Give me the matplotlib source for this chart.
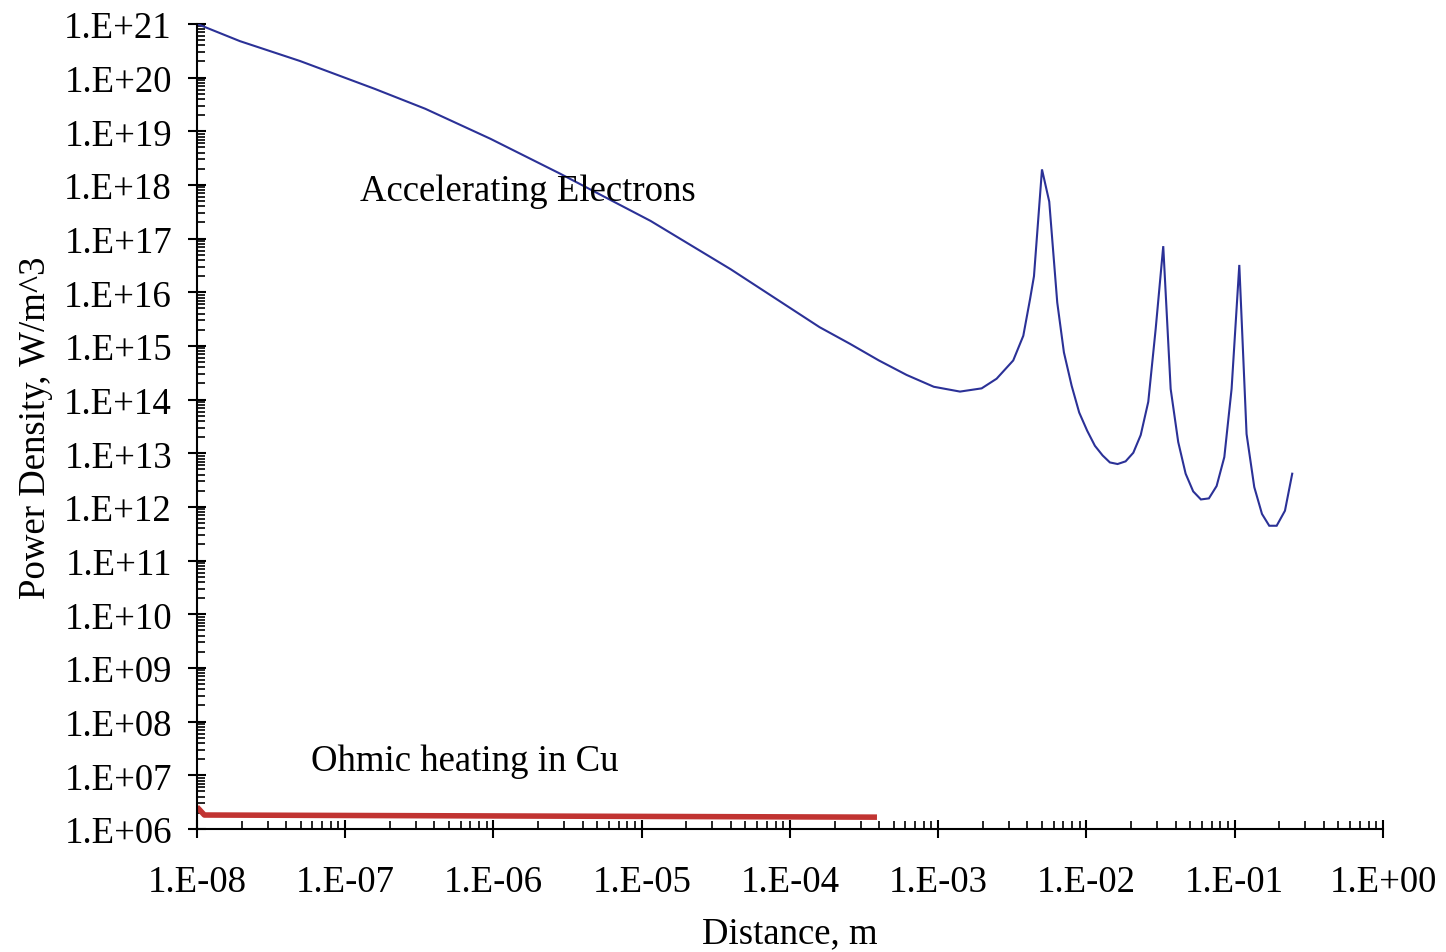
import numpy as np
import matplotlib
matplotlib.use("Agg")
import matplotlib.pyplot as plt
from matplotlib.ticker import FixedLocator, FuncFormatter, NullFormatter

plt.rcParams['font.family'] = ['Liberation Serif', 'DejaVu Serif']

# Accelerating electrons: log10(distance, m) and log10(power density, W/m^3)
electron_log_x = [-7.998, -7.71, -7.305, -6.80, -6.46, -6.02, -5.55, -4.94, -4.40,
                  -3.80, -3.595, -3.40, -3.213, -3.03, -2.853, -2.707, -2.606, -2.494,
                  -2.426, -2.38, -2.354, -2.30, -2.251, -2.197, -2.152, -2.10, -2.049,
                  -1.995, -1.943, -1.891, -1.842, -1.79, -1.736, -1.684, -1.634, -1.583,
                  -1.533, -1.482, -1.432, -1.381, -1.331, -1.28, -1.228, -1.174, -1.122,
                  -1.07, -1.021, -0.969, -0.92, -0.868, -0.816, -0.767, -0.717, -0.661,
                  -0.612]
electron_log_y = [21.0, 20.68, 20.31, 19.79, 19.42, 18.86, 18.21, 17.33, 16.43,
                  15.35, 15.04, 14.73, 14.46, 14.24, 14.15, 14.21, 14.39, 14.73,
                  15.19, 15.88, 16.30, 18.29, 17.69, 15.81, 14.88, 14.26, 13.76,
                  13.42, 13.14, 12.96, 12.83, 12.80, 12.85, 13.01, 13.34, 13.96,
                  15.32, 16.86, 14.20, 13.21, 12.62, 12.29, 12.14, 12.16, 12.39,
                  12.93, 14.20, 16.51, 13.36, 12.37, 11.87, 11.65, 11.65, 11.93,
                  12.62]

# Ohmic heating in copper
ohmic_log_x = [-8.0, -7.95, -3.413]
ohmic_log_y = [6.41, 6.26, 6.22]

# Decades shown on each axis
x_decades = list(range(-8, 1))
y_decades = list(range(6, 22))

FS = 26.5

fig = plt.figure(figsize=(14.46, 9.53), dpi=100)
ax = fig.add_axes([0.1362, 0.1291, 0.8202, 0.8447])

ax.plot(10 ** np.array(electron_log_x), 10 ** np.array(electron_log_y),
        color='#2b3197', lw=1.5, solid_joinstyle='miter')
ax.plot(10 ** np.array(ohmic_log_x), 10 ** np.array(ohmic_log_y),
        color='#c13432', lw=4.0, solid_capstyle='butt')

ax.set_xscale('log')
ax.set_yscale('log')
ax.set_xlim(10.0 ** x_decades[0], 10.0 ** x_decades[-1])
ax.set_ylim(10.0 ** y_decades[0], 10.0 ** y_decades[-1])


def minor_positions(decades):
    return [m * 10.0 ** d for d in decades[:-1] for m in range(2, 10)]


fmt = FuncFormatter(lambda v, p: "1.E{:+03d}".format(int(round(np.log10(v)))))
ax.xaxis.set_major_locator(FixedLocator([10.0 ** d for d in x_decades]))
ax.yaxis.set_major_locator(FixedLocator([10.0 ** d for d in y_decades]))
ax.xaxis.set_minor_locator(FixedLocator(minor_positions(x_decades)))
ax.yaxis.set_minor_locator(FixedLocator(minor_positions(y_decades)))
ax.xaxis.set_major_formatter(fmt)
ax.yaxis.set_major_formatter(fmt)
ax.xaxis.set_minor_formatter(NullFormatter())
ax.yaxis.set_minor_formatter(NullFormatter())

for s in ('top', 'right'):
    ax.spines[s].set_visible(False)
for s in ('left', 'bottom'):
    ax.spines[s].set_linewidth(1.5)

ax.tick_params(which='major', direction='inout', length=13, width=1.5,
               labelsize=FS)
ax.tick_params(axis='x', which='major', pad=19)
ax.tick_params(axis='y', which='major', pad=11.5)
ax.tick_params(which='minor', direction='in', length=5.5, width=1.2)

ax.set_xlabel('Distance, m', fontsize=FS, labelpad=12)
ax.set_ylabel('Power Density, W/m^3', fontsize=FS, labelpad=8)

ax.text(10 ** -6.9, 10 ** 17.89, 'Accelerating Electrons', fontsize=FS, va='center', ha='left')
ax.text(10 ** -7.23, 10 ** 7.27, 'Ohmic heating in Cu', fontsize=FS, va='center', ha='left')

fig.savefig('out.png', dpi=100)
